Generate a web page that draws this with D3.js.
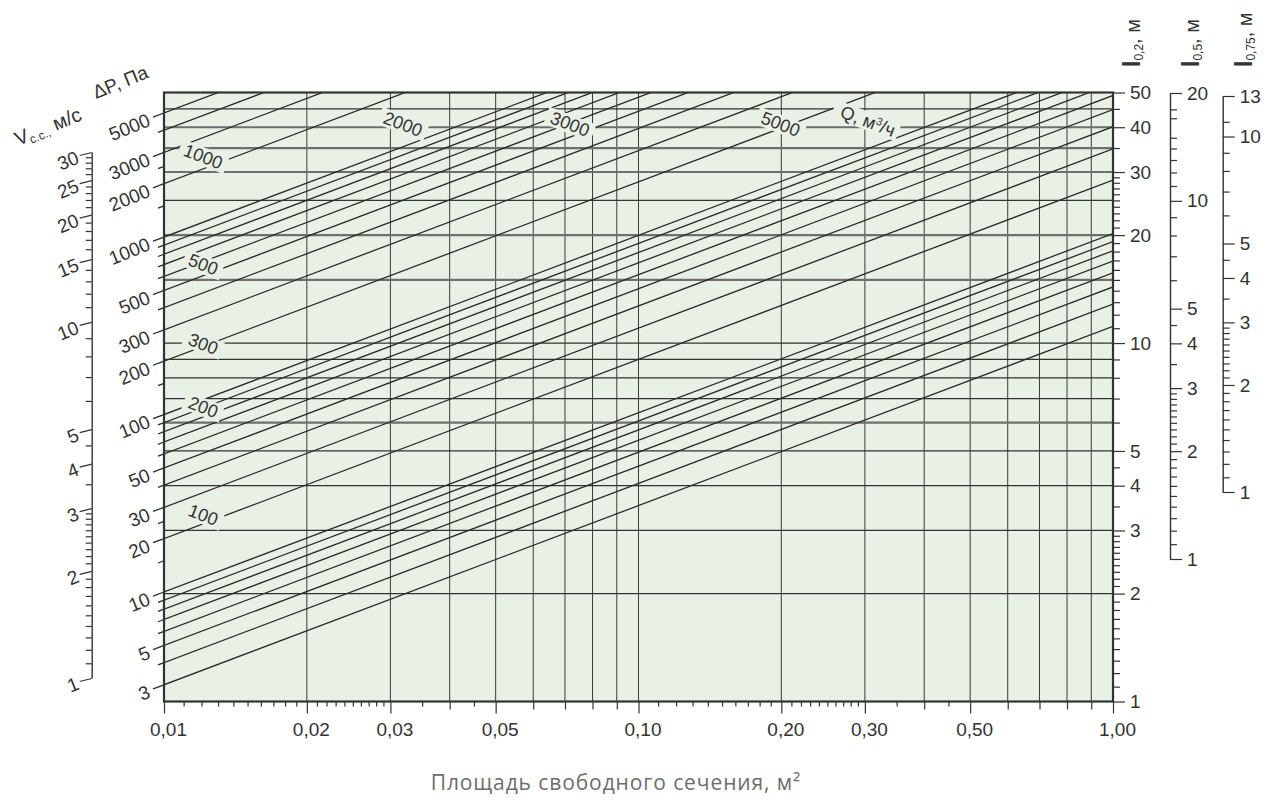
<!DOCTYPE html>
<meta charset="utf-8">
<head>
  <title>Nomogram</title>
</head>
<style>
  body { margin: 0; background: #fff; }
  text { font-family: "Liberation Sans Narrow", "Liberation Sans", Arial, sans-serif; fill: #333; }
  .tick line { stroke: #333; stroke-width: 1.2; }
  .domain { stroke: #333; stroke-width: 1.4; }
</style>

<script src="https://d3js.org/d3.v7.min.js"></script>

<div id="chart"></div>

<script>
  // ---- data ----
  // pressure drop lines (dP, Pa) : value where each line starts on the left edge
  var dpLines = [5000, 4000, 3000, 2000, 1000, 900, 800, 700, 600, 500, 400, 300, 200,
    100, 90, 80, 70, 60, 50, 40, 30, 20, 10, 9, 8, 7, 6, 5, 4, 3];
  var dpTickOnly = [2500, 1500, 150, 25, 15];
  var dpLabels = [5000, 3000, 2000, 1000, 500, 300, 200, 100, 50, 30, 20, 10, 5, 3];

  // velocity scale V, m/s
  var vMajor = [1, 2, 3, 4, 5, 10, 15, 20, 25, 30];
  var vMinor = [1.1, 1.2, 1.3, 1.4, 1.5, 1.6, 1.7, 1.8, 1.9, 2.1, 2.2, 2.3, 2.4, 2.5, 2.6, 2.7, 2.8, 2.9,
    3.5, 4.5, 6, 7, 8, 9, 11, 12, 13, 14, 16, 17, 18, 19, 21, 22, 23, 24, 26, 27, 28, 29];

  // free area, m2
  var areaMajor = [0.01, 0.02, 0.03, 0.05, 0.1, 0.2, 0.3, 0.5, 1];
  var areaMid = [0.04, 0.06, 0.07, 0.08, 0.09, 0.4, 0.6, 0.7, 0.8, 0.9];
  var areaMinor = [0.011, 0.012, 0.013, 0.014, 0.015, 0.016, 0.017, 0.018, 0.019,
    0.021, 0.022, 0.023, 0.024, 0.025, 0.026, 0.027, 0.028, 0.029, 0.035, 0.045,
    0.11, 0.12, 0.13, 0.14, 0.15, 0.16, 0.17, 0.18, 0.19,
    0.21, 0.22, 0.23, 0.24, 0.25, 0.26, 0.27, 0.28, 0.29, 0.35, 0.45];
  var areaGrid = [0.02, 0.03, 0.04, 0.05, 0.06, 0.07, 0.08, 0.09, 0.1,
    0.2, 0.3, 0.4, 0.5, 0.6, 0.7, 0.8, 0.9];

  // throw l0.2, m (right scale + horizontal grid)
  var l2Major = [1, 2, 3, 4, 5, 10, 20, 30, 40, 50];
  var l2Minor = [1.1, 1.2, 1.3, 1.4, 1.5, 1.6, 1.7, 1.8, 1.9, 2.1, 2.2, 2.3, 2.4, 2.5, 2.6, 2.7, 2.8, 2.9,
    3.5, 4.5, 6, 7, 8, 9, 11, 12, 13, 14, 15, 16, 17, 18, 19, 21, 22, 23, 24, 25, 26, 27, 28, 29, 35, 45];
  var gridHeavy = [40, 35, 30, 20, 15, 6];
  var gridLight = [45, 25, 10, 9, 8, 7, 5, 4, 3, 2];

  // throw l0.5, m
  var l5Major = [1, 2, 3, 4, 5, 10, 20];
  var l5Minor = [1.1, 1.2, 1.3, 1.4, 1.5, 1.6, 1.7, 1.8, 1.9, 2.1, 2.2, 2.3, 2.4, 2.5, 2.6, 2.7, 2.8, 2.9,
    3.5, 4.5, 6, 7, 8, 9, 11, 12, 13, 14, 15, 17, 18];

  // throw l0.75, m
  var l75Major = [1, 2, 3, 4, 5, 10, 13];
  var l75Minor = [1.1, 1.2, 1.3, 1.4, 1.5, 1.6, 1.7, 1.8, 1.9, 2.1, 2.2, 2.3, 2.4, 2.5, 2.6, 2.7, 2.8, 2.9,
    3.5, 4.5, 6, 7, 8, 9, 11];

  // airflow labels Q, m3/h
  var qLeft = [1000, 500, 300, 200, 100];
  var qTop = [2000, 3000, 5000];

  // ---- layout ----
  var W = 1277, H = 806;
  var plot = { left: 164, right: 1113, top: 92.5, bottom: 701.5 };
  var bg = "#e9f0e6";

  var svg = d3.select("#chart").append("svg")
    .attr("width", W)
    .attr("height", H);

  var x = d3.scaleLog().domain([0.01, 1]).range([plot.left, plot.right]);
  var yL = d3.scaleLog().domain([1, 50]).range([plot.bottom, plot.top]);
  var yDP = d3.scaleLog().domain([10, 5000]).range([592, 113]);
  var yV = d3.scaleLog().domain([1, 30]).range([678, 152]);
  var yL5 = d3.scaleLog().domain([1, 20]).range([559, 93]);
  var yL75 = d3.scaleLog().domain([1, 13]).range([492, 96]);

  // plot background
  svg.append("rect")
    .attr("x", plot.left).attr("y", plot.top)
    .attr("width", plot.right - plot.left)
    .attr("height", plot.bottom - plot.top)
    .attr("fill", bg);

  svg.append("clipPath").attr("id", "clip")
    .append("rect")
    .attr("x", plot.left).attr("y", plot.top)
    .attr("width", plot.right - plot.left)
    .attr("height", plot.bottom - plot.top);

  // vertical grid
  svg.append("g").selectAll("line")
    .data(areaGrid).enter().append("line")
    .attr("x1", function(d) { return x(d); })
    .attr("x2", function(d) { return x(d); })
    .attr("y1", plot.top).attr("y2", plot.bottom)
    .attr("stroke", "#3a3a3a").attr("stroke-width", 1);

  // horizontal grid
  svg.append("g").selectAll("line")
    .data(gridHeavy).enter().append("line")
    .attr("x1", plot.left).attr("x2", plot.right)
    .attr("y1", function(d) { return yL(d); })
    .attr("y2", function(d) { return yL(d); })
    .attr("stroke", "#6f6f6f").attr("stroke-width", 2.2);
  svg.append("g").selectAll("line")
    .data(gridLight).enter().append("line")
    .attr("x1", plot.left).attr("x2", plot.right)
    .attr("y1", function(d) { return yL(d); })
    .attr("y2", function(d) { return yL(d); })
    .attr("stroke", "#333").attr("stroke-width", 1.2);

  // a dP line: l grows with sqrt(area), starting at the dP value on the left edge
  var segLine = d3.line()
    .x(function(p) { return x(p[0]); })
    .y(function(p) { return yL(p[1]); });

  function dpSegment(dp, a0, a1) {
    var l0 = yL.invert(yDP(dp));
    return segLine([[a0, l0 * Math.sqrt(a0 / 0.01)], [a1, l0 * Math.sqrt(a1 / 0.01)]]);
  }

  svg.append("g")
    .attr("clip-path", "url(#clip)")
    .selectAll("path")
    .data(dpLines).enter().append("path")
    .attr("d", function(d) { return dpSegment(d, 0.01, 1); })
    .attr("fill", "none")
    .attr("stroke", "#2a2a2a")
    .attr("stroke-width", 1.3);

  // dP ticks left of the frame (longer for labelled values)
  svg.append("g").selectAll("path")
    .data(dpLines.concat(dpTickOnly)).enter().append("path")
    .attr("d", function(d) {
      var len = dpLabels.indexOf(d) >= 0 ? 11 : 6;
      return dpSegment(d, x.invert(plot.left - len), 0.01);
    })
    .attr("fill", "none")
    .attr("stroke", "#2a2a2a")
    .attr("stroke-width", 1.3);

  svg.append("g").selectAll("text")
    .data(dpLabels).enter().append("text")
    .attr("transform", function(d) {
      return "translate(" + (plot.left - 15) + "," + (yDP(d) + 6) + ") rotate(-22)";
    })
    .attr("text-anchor", "end")
    .attr("dy", "0.36em")
    .style("font-size", "19px")
    .text(function(d) { return d; });

  // Q labels with a background patch that breaks the lines under them
  var qAnchorA = 0.0121, qAnchorL = 33.2, qTopL = 40.9;
  var K = qAnchorL * Math.sqrt(qAnchorA) / 1000;

  function qLabel(px, py, txt, size) {
    var g = svg.append("g")
      .attr("transform", "translate(" + px + "," + py + ") rotate(21)");
    var r = g.append("rect").attr("fill", bg);
    var t = g.append("text")
      .attr("text-anchor", "middle")
      .attr("dy", "0.36em")
      .style("font-size", size + "px")
      .text(txt);
    var b = t.node().getBBox();
    r.attr("x", b.x - 5).attr("y", b.y + 1)
      .attr("width", b.width + 10).attr("height", b.height - 2);
    return t;
  }

  qLeft.forEach(function(q) {
    qLabel(x(qAnchorA), yL(K * q / Math.sqrt(qAnchorA)), q, 18);
  });
  qTop.forEach(function(q) {
    var a = Math.pow(K * q / qTopL, 2);
    qLabel(x(a), yL(qTopL), q, 18);
  });

  var qt = svg.append("g")
    .attr("transform", "translate(868," + (yL(qTopL) - 3) + ") rotate(21)");
  var qr = qt.append("rect").attr("fill", bg);
  var qtext = qt.append("text")
    .attr("text-anchor", "middle")
    .attr("dy", "0.36em")
    .style("font-size", "18px");
  qtext.append("tspan").text("Q, м");
  qtext.append("tspan").attr("dy", -6).style("font-size", "11px").text("3");
  qtext.append("tspan").attr("dy", 6).text("/ч");
  var qb = qtext.node().getBBox();
  qr.attr("x", qb.x - 8).attr("y", qb.y + 1)
    .attr("width", qb.width + 12).attr("height", qb.height - 2);

  // frame
  svg.append("rect")
    .attr("x", plot.left).attr("y", plot.top)
    .attr("width", plot.right - plot.left)
    .attr("height", plot.bottom - plot.top)
    .attr("fill", "none")
    .attr("stroke", "#333")
    .attr("stroke-width", 2.2);

  // X axis (three tick lengths)
  function fmtArea(d) { return d3.format(".2f")(d).replace(".", ","); }

  svg.append("g")
    .attr("transform", "translate(0," + plot.bottom + ")")
    .call(d3.axisBottom(x).tickValues(areaMinor).tickSize(5).tickFormat(""))
    .call(function(g) { g.select(".domain").remove(); });
  svg.append("g")
    .attr("transform", "translate(0," + plot.bottom + ")")
    .call(d3.axisBottom(x).tickValues(areaMid).tickSize(8).tickFormat(""))
    .call(function(g) { g.select(".domain").remove(); });
  svg.append("g")
    .attr("transform", "translate(0," + plot.bottom + ")")
    .call(d3.axisBottom(x).tickValues(areaMajor).tickSize(12).tickPadding(9).tickFormat(fmtArea))
    .call(function(g) { g.select(".domain").remove(); })
    .selectAll("text")
    .attr("dx", 4)
    .style("font-size", "19px")
    .style("fill", "#333");

  svg.append("text")
    .attr("x", 616)
    .attr("y", 790)
    .attr("text-anchor", "middle")
    .style("font-family", "'Open Sans', sans-serif")
    .style("font-size", "21px")
    .style("letter-spacing", "0.9px")
    .style("fill", "#6d6d6d")
    .text("Площадь свободного сечения, м²");

  // V axis on the far left
  var vx = 91.7;
  svg.append("g")
    .attr("transform", "translate(" + vx + ",0)")
    .call(d3.axisLeft(yV).tickValues(vMinor).tickSize(6).tickSizeOuter(0).tickFormat(""));
  var vAxis = svg.append("g")
    .attr("transform", "translate(" + vx + ",0)")
    .call(d3.axisLeft(yV).tickValues(vMajor).tickSize(12).tickSizeOuter(0).tickFormat(function(d) { return d; }));
  vAxis.select(".domain").remove();
  vAxis.selectAll(".tick line").attr("y2", 3);
  vAxis.selectAll(".tick text")
    .attr("x", null).attr("dy", "0.36em")
    .attr("transform", "translate(-14,4) rotate(-22)")
    .style("font-size", "19px")
    .style("fill", "#333");

  // left titles
  var vTitle = svg.append("text")
    .attr("transform", "translate(18,146) rotate(-22)")
    .style("font-size", "20px");
  vTitle.append("tspan").text("V");
  vTitle.append("tspan").attr("dy", 3).style("font-size", "12px").text("с.с.,");
  vTitle.append("tspan").attr("dy", -3).text(" м/с");

  svg.append("text")
    .attr("transform", "translate(96,99) rotate(-22)")
    .style("font-size", "19px")
    .text("ΔP, Па");

  // right scales
  function rightScale(px, scale, major, minor, keepDomain) {
    var g1 = svg.append("g")
      .attr("transform", "translate(" + px + ",0)")
      .call(d3.axisRight(scale).tickValues(minor).tickSize(7).tickSizeOuter(0).tickFormat(""));
    var g2 = svg.append("g")
      .attr("transform", "translate(" + px + ",0)")
      .call(d3.axisRight(scale).tickValues(major).tickSize(12).tickSizeOuter(0).tickPadding(5)
        .tickFormat(function(d) { return d; }));
    g2.select(".domain").remove();
    if (!keepDomain) g1.select(".domain").remove();
    g2.selectAll("text").style("font-size", "19px").style("fill", "#333");
  }

  rightScale(plot.right, yL, l2Major, l2Minor, false);
  rightScale(1170, yL5, l5Major, l5Minor, true);
  rightScale(1222.7, yL75, l75Major, l75Minor, true);

  function lTitle(px, sub) {
    var t = svg.append("text")
      .attr("transform", "translate(" + px + ",67) rotate(-90)")
      .style("font-size", "20px");
    t.append("tspan").style("font-weight", "bold").style("font-size", "23px").text("l");
    t.append("tspan").attr("dy", 3).style("font-size", "12px").text(sub);
    t.append("tspan").attr("dy", -3).text(", м");
  }
  lTitle(1140, "0,2");
  lTitle(1199, "0,5");
  lTitle(1252, "0,75");
</script>
